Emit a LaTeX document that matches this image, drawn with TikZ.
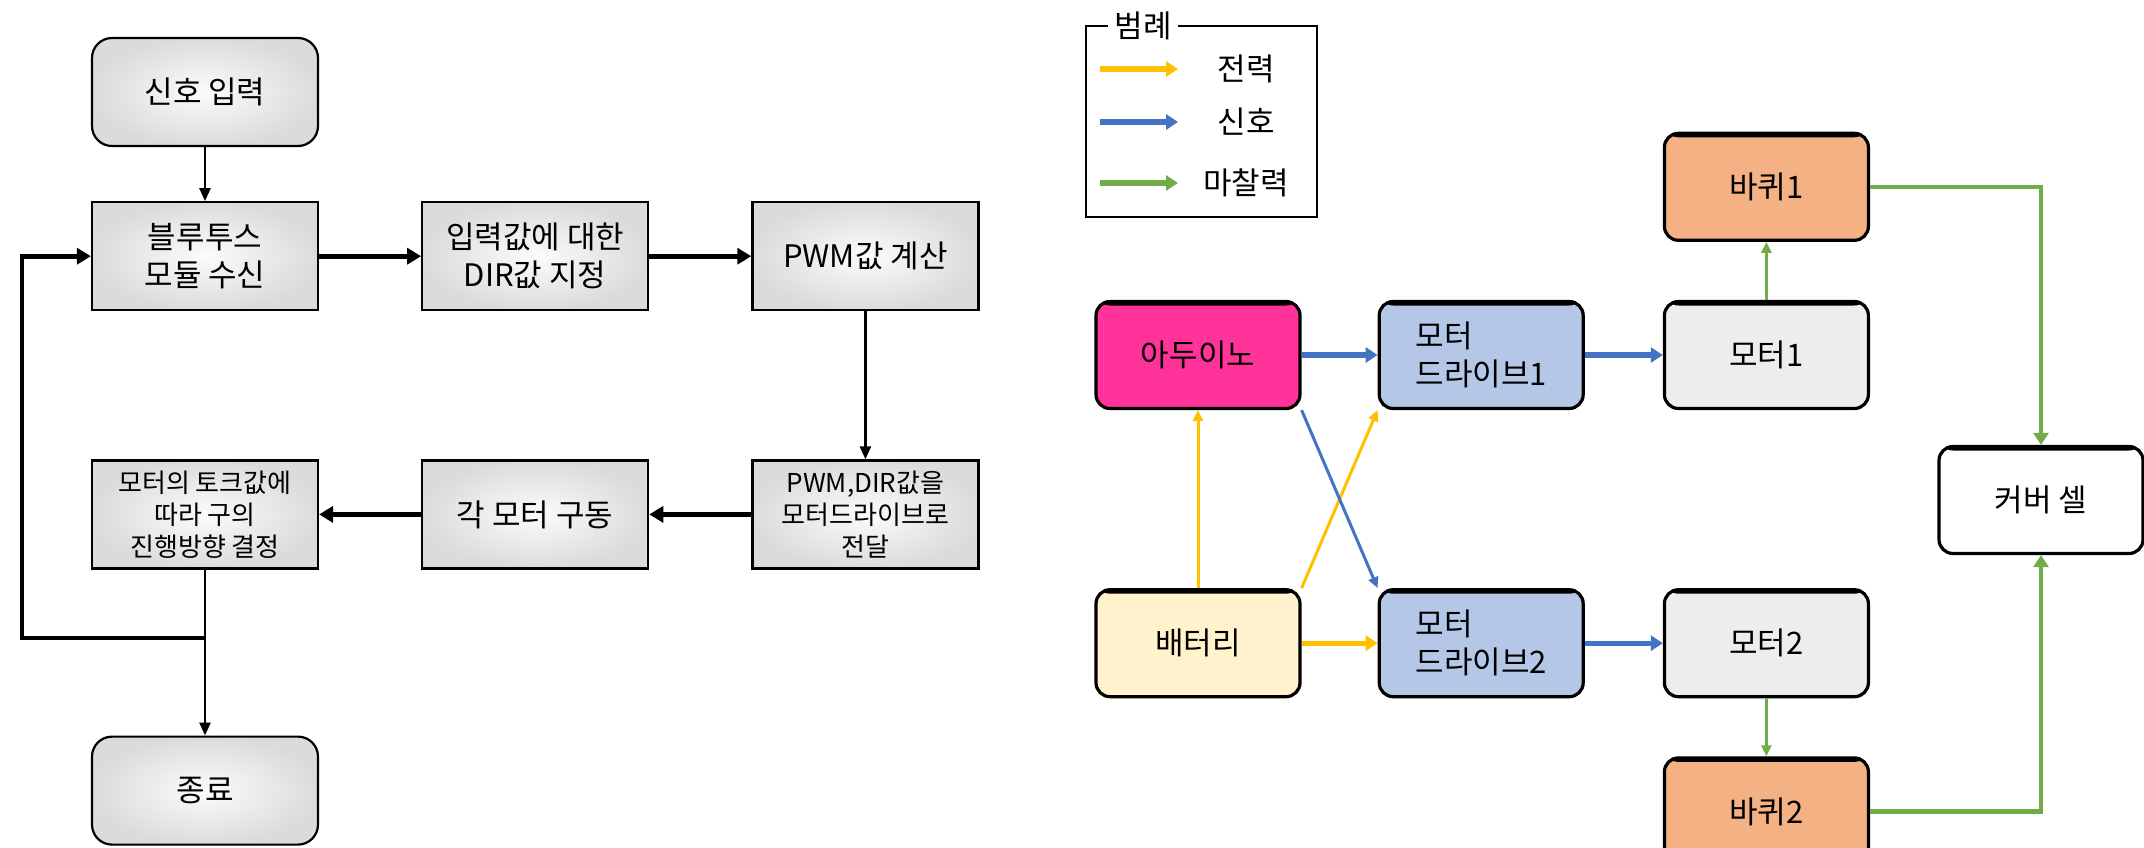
\documentclass[tikz,border=0pt]{standalone}
\usepackage{fontspec}
\setmainfont{Noto Sans CJK KR}
\usepackage{xcolor}
\usepackage{tikz}
\usetikzlibrary{arrows.meta, positioning, calc}
\definecolor{pwryellow}{HTML}{FFC000}
\definecolor{sigblue}{HTML}{4472C4}
\definecolor{fricgreen}{HTML}{70AD47}
\definecolor{ardpink}{HTML}{FF3399}
\definecolor{drvblue}{HTML}{B4C7E7}
\definecolor{motgray}{HTML}{EDEDED}
\definecolor{wheelor}{HTML}{F4B183}
\definecolor{batcream}{HTML}{FFF2CC}
\newcommand{\bigsz}{\fontsize{15.5pt}{19pt}\selectfont}
\newcommand{\smallsz}{\fontsize{13pt}{16pt}\selectfont}

\begin{document}
\begin{tikzpicture}[
  flowbox/.style={rectangle, draw=black, line width=1.1pt, minimum width=113pt,
    minimum height=54pt, inner sep=2pt, align=center, inner color=gray!3,
    outer color=gray!28, font=\bigsz},
  flowend/.style={flowbox, rounded corners=10pt},
  part/.style={rectangle, rounded corners=7pt, draw=black, line width=1.6pt,
    fill=#1, minimum width=102pt, minimum height=53.5pt, align=center, font=\bigsz,
    path picture={\fill[black] (path picture bounding box.north west)
      rectangle ([yshift=-2pt]path picture bounding box.north east);}},
  thinarrow/.style={-{Triangle[length=6.5pt, width=5.5pt]}, line width=1.3pt},
  thickarrow/.style={-{Triangle[length=7pt, width=8pt]}, line width=2.4pt},
  power/.style={-{Triangle[length=6pt, width=7.5pt]}, line width=2.6pt, pwryellow},
  signal/.style={-{Triangle[length=6pt, width=7.5pt]}, line width=2.6pt, sigblue},
  friction/.style={-{Triangle[length=6pt, width=7.5pt]}, line width=2.6pt, fricgreen},
  slim/.style={line width=1.5pt, -{Triangle[length=5.5pt, width=5pt]}},
]
  \path[use as bounding box, clip] (0,0) rectangle (1072pt,-423.5pt);

  % Flow chart
  \node[flowend] (sig) at (102.5pt,-46pt) {신호 입력};
  \node[flowbox, below=27pt of sig] (bt) {블루투스\\모듈 수신};
  \node[flowbox, right=51pt of bt] (dir) {입력값에 대한\\DIR값 지정};
  \node[flowbox, right=51pt of dir] (pwm) {PWM값 계산};
  \node[flowbox, below=74pt of pwm, font=\smallsz] (send) {PWM,DIR값을\\모터드라이브로\\전달};
  \node[flowbox, left=51pt of send] (drive) {각 모터 구동};
  \node[flowbox, left=51pt of drive, font=\smallsz] (torque) {모터의 토크값에\\따라 구의\\진행방향 결정};
  \node[flowend, below=83pt of torque] (fin) {종료};

  \draw[thinarrow] (sig) -- (bt);
  \draw[thickarrow] (bt) -- (dir);
  \draw[thickarrow] (dir) -- (pwm);
  \draw[thinarrow] (pwm) -- (send);
  \draw[thickarrow] (send) -- (drive);
  \draw[thickarrow] (drive) -- (torque);
  \draw[thinarrow] (torque) -- (fin);

  \coordinate (jn) at (torque.south |- 0,-319pt);
  \coordinate (back) at (11pt,-319pt);
  \draw[thickarrow] (jn) -- (back) |- (bt.west);

  % Legend
  \node[draw, line width=0.8pt, minimum width=115.5pt, minimum height=95.5pt,
    inner sep=0pt] (legend) at (600.75pt,-60.75pt) {};
  \node[fill=white, inner sep=3pt, font=\bigsz] (legtitle) at (571.5pt,-13pt) {범례};
  \foreach \kind/\txt/\yy [count=\i] in {power/전력/34.5, signal/신호/61, friction/마찰력/91.5} {
    \coordinate (la\i) at (550pt,-\yy pt);
    \coordinate (lb\i) at (589pt,-\yy pt);
    \draw[\kind] (la\i) -- (lb\i);
    \node[font=\bigsz] (lt\i) at (623pt,-\yy pt) {\txt};
  }

  % Parts
  \node[part=ardpink] (ard) at (599pt,-177.5pt) {아두이노};
  \node[part=drvblue, right=38pt of ard, align=left] (md1) {모터\\드라이브1};
  \node[part=motgray, right=39pt of md1] (m1) {모터1};
  \node[part=wheelor, above=29pt of m1] (w1) {바퀴1};
  \node[part=batcream, below=89pt of ard] (bat) {배터리};
  \node[part=drvblue, right=38pt of bat, align=left] (md2) {모터\\드라이브2};
  \node[part=motgray, right=39pt of md2] (m2) {모터2};
  \node[part=wheelor, below=29pt of m2] (w2) {바퀴2};
  \node[part=white] (cover) at (1020.5pt,-250pt) {커버 셀};

  \draw[signal] (ard) -- (md1);
  \draw[signal] (md1) -- (m1);
  \draw[power] (bat) -- (md2);
  \draw[signal] (md2) -- (m2);
  \draw[power, slim] (bat) -- (ard);
  \draw[power, slim] (bat.north east) -- (md1.south west);
  \draw[signal, slim] (ard.south east) -- (md2.north west);
  \draw[friction, slim] (m1) -- (w1);
  \draw[friction, slim] (m2) -- (w2);
  \draw[friction, line width=2.2pt] (w1) -| (cover);
  \draw[friction, line width=2.2pt] (w2) -| (cover);
\end{tikzpicture}
\end{document}
